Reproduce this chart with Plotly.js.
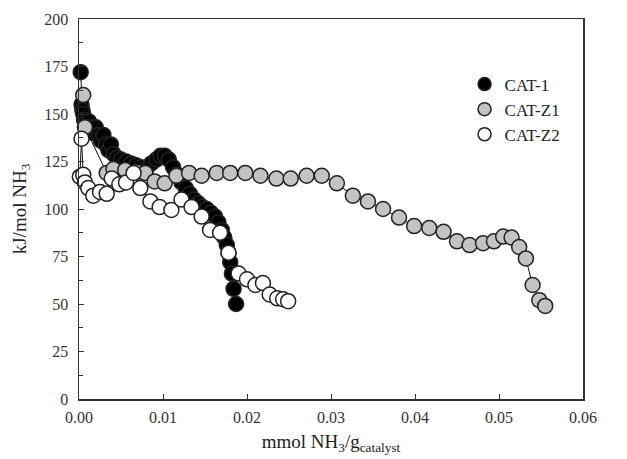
<!DOCTYPE html>
<html>
<head>
<meta charset="utf-8">
<script src="https://cdn.plot.ly/plotly-3.0.1.min.js"></script>
<style>html,body{margin:0;padding:0;background:#fff;}#chart{width:627px;height:459px;}</style>
</head>
<body>
<div id="chart"></div>
<script>
// CAT-1 (black)
const cat1X = [0.0002, 0.0003, 0.0004, 0.0005, 0.0006, 0.0008, 0.001, 0.0012, 0.0015, 0.0017, 0.002, 0.0023, 0.0026, 0.0029, 0.0032, 0.0035, 0.0038, 0.0041, 0.0045, 0.005, 0.0056, 0.0062, 0.0068, 0.0074, 0.008, 0.0086, 0.0092, 0.0097, 0.0102, 0.0107, 0.0112, 0.0117, 0.0122, 0.0127, 0.0132, 0.0137, 0.0142, 0.0147, 0.0152, 0.0157, 0.0162, 0.0166, 0.017, 0.0173, 0.0176, 0.0178, 0.018, 0.0182, 0.0184, 0.0187];
const cat1Y = [172, 155, 152, 150, 147, 145, 142, 146, 143, 140, 143, 139, 136, 139, 134, 131, 134, 129, 127, 126, 125, 124, 123, 122, 121, 124, 126, 128, 128, 126, 122, 118, 114, 111, 108, 105, 103, 101, 100, 98, 96, 93, 89, 85, 81, 77, 72, 66, 58, 50];
// CAT-Z1 (grey)
const catZ1X = [0.0005, 0.0007, 0.0033, 0.0041, 0.0055, 0.0069, 0.0079, 0.009, 0.0102, 0.0116, 0.0131, 0.0146, 0.0164, 0.018, 0.0198, 0.0216, 0.0235, 0.0252, 0.0271, 0.0289, 0.0307, 0.0326, 0.0344, 0.0362, 0.0381, 0.0399, 0.0417, 0.0434, 0.045, 0.0465, 0.0481, 0.0494, 0.0505, 0.0515, 0.0524, 0.0532, 0.054, 0.0548, 0.0555];
const catZ1Y = [160, 143, 119, 121, 120.5, 119.5, 119, 114.5, 113.5, 117.5, 119, 117.5, 119, 119, 119, 117.5, 116, 116, 117.5, 117.5, 113.5, 107, 104, 100, 95.5, 91, 90, 88, 83, 81, 82, 83, 85.5, 85, 80, 74, 60, 52, 49];
// CAT-Z2 (white)
const catZ2X = [0.0001, 0.0003, 0.0005, 0.0007, 0.0011, 0.0017, 0.0025, 0.0033, 0.0039, 0.0048, 0.0056, 0.0065, 0.0073, 0.0085, 0.0096, 0.011, 0.0122, 0.0134, 0.0146, 0.0156, 0.0168, 0.0178, 0.019, 0.02, 0.021, 0.0219, 0.0227, 0.0236, 0.0243, 0.0249];
const catZ2Y = [117, 137, 118, 114, 111, 107, 109, 108, 116, 113, 114, 119, 111, 104, 101, 99.5, 105, 101, 96, 89, 87.5, 77, 66, 63, 60, 61, 55, 53, 52.5, 51.5];

const seriesNames = ["CAT-1", "CAT-Z1", "CAT-Z2"];
const fills = ["#000000", "#c3c3c3", "#ffffff"];
const FONT = "Liberation Serif, Times New Roman, serif";

function mk(x, y, name, fill) {
  return {
    x: x, y: y, name: name, type: "scatter", mode: "lines+markers",
    cliponaxis: false, showlegend: false,
    line: {color: "#111", width: 1},
    marker: {size: 15, color: fill, line: {color: "#222", width: 1.5}}
  };
}
function legendOnly(name, fill) {
  return {
    x: [null], y: [null], name: name, type: "scatter", mode: "markers",
    showlegend: true,
    marker: {size: 13, color: fill, line: {color: "#222", width: 1.5}}
  };
}

const data = [
  mk(cat1X, cat1Y, seriesNames[0], fills[0]),
  mk(catZ1X, catZ1Y, seriesNames[1], fills[1]),
  mk(catZ2X, catZ2Y, seriesNames[2], fills[2]),
  legendOnly(seriesNames[0], fills[0]),
  legendOnly(seriesNames[1], fills[1]),
  legendOnly(seriesNames[2], fills[2])
];

const layout = {
  width: 627, height: 459,
  margin: {l: 79, r: 44, t: 19, b: 60},
  paper_bgcolor: "#fff", plot_bgcolor: "#fff",
  font: {family: FONT, color: "#333", size: 15},
  showlegend: true,
  legend: {x: 0.765, y: 0.875, xanchor: "left", yanchor: "top", font: {family: FONT, size: 17, color: "#222"}, bgcolor: "rgba(0,0,0,0)", itemwidth: 30, tracegroupgap: 0},
  xaxis: {
    range: [0, 0.06], dtick: 0.01, tickformat: ".2f",
    showgrid: false, zeroline: false,
    showline: true, linecolor: "#333", linewidth: 1.5, mirror: true,
    ticks: "inside", ticklen: 5, tickcolor: "#333", tickwidth: 1,
    ticklabelstandoff: 3,
    tickfont: {family: FONT, size: 16, color: "#333"},
    title: {text: "mmol NH<sub>3</sub>/g<sub>catalyst</sub>", font: {family: FONT, size: 19, color: "#222"}, standoff: 10}
  },
  yaxis: {
    range: [0, 200], dtick: 25,
    showgrid: false, zeroline: false,
    showline: true, linecolor: "#333", linewidth: 1.5, mirror: true,
    ticks: "inside", ticklen: 5, tickcolor: "#333", tickwidth: 1,
    ticklabelstandoff: 6,
    minor: {dtick: 12.5, ticks: "inside", ticklen: 4, tickcolor: "#333", showgrid: false},
    tickfont: {family: FONT, size: 16, color: "#333"},
    title: {text: "kJ/mol NH<sub>3</sub>", font: {family: FONT, size: 19, color: "#222"}, standoff: 12}
  }
};

Plotly.newPlot("chart", data, layout, {displayModeBar: false, staticPlot: true});
</script>
</body>
</html>
